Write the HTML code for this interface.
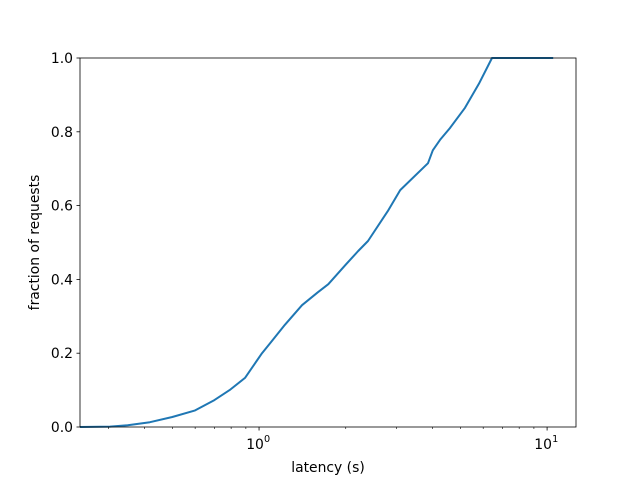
<!DOCTYPE html>
<html><head><meta charset="utf-8"><style>
body{margin:0;background:#fff}
svg text{font-family:"DejaVu Sans","Liberation Sans",sans-serif;font-size:13.9px;fill:#000}
</style></head><body>
<svg id="chart" width="640" height="480"></svg>
<script>
const latencies=[0.239,0.304,0.35,0.418,0.5,0.60,0.7,0.79,0.894,1.024,1.1,1.23,1.41,1.6,1.74,2.0,2.21,2.39,2.8,3.09,3.86,4.01,4.25,4.6,5.19,5.8,6.44,10.5];
const fractions=[0,0.001,0.005,0.013,0.027,0.045,0.073,0.10,0.133,0.2,0.23,0.277,0.33,0.365,0.387,0.44,0.477,0.504,0.585,0.642,0.715,0.75,0.778,0.81,0.865,0.93,1.0,1.0];
const yTicks=[0,0.2,0.4,0.6,0.8,1.0];
const yTickLabels=["0.0","0.2","0.4","0.6","0.8","1.0"];
const xMajor=[1,10];
const xMinor=[0.3,0.4,0.5,0.6,0.7,0.8,0.9,2,3,4,5,6,7,8,9];
const L=80,R=576,T=58,B=427;
const xmin=0.239,xmax=12.6;
const X=v=>L+(Math.log10(v)-Math.log10(xmin))/(Math.log10(xmax)-Math.log10(xmin))*(R-L);
const Y=v=>B-v*(B-T);
const svg=document.getElementById('chart');
const NS='http://www.w3.org/2000/svg';
function mk(tag,attrs,parent){const e=document.createElementNS(NS,tag);for(const k in attrs)e.setAttribute(k,attrs[k]);(parent||svg).appendChild(e);return e;}
let d=latencies.map((v,i)=>(i?'L':'M')+X(v).toFixed(1)+','+Y(fractions[i]).toFixed(1)).join(' ');
const line=mk('path',{d:d,fill:'none',stroke:'#1f77b4','stroke-width':2,'stroke-linejoin':'round'});


yTicks.forEach((v,i)=>{
  mk('line',{x1:L-3.5,x2:L,y1:Y(v),y2:Y(v),stroke:'#000','stroke-width':0.8});
  const t=mk('text',{x:L-7,y:Y(v)+5,'text-anchor':'end'});t.textContent=yTickLabels[i];
  
  
});
xMinor.forEach(v=>{if(X(v)>L&&X(v)<R)mk('line',{x1:X(v),x2:X(v),y1:B,y2:B+2,stroke:'#000','stroke-width':0.6});});
xMajor.forEach((v,i)=>{
  mk('line',{x1:X(v),x2:X(v),y1:B,y2:B+3.5,stroke:'#000','stroke-width':0.8});
  const t=mk('text',{x:X(v)-4,y:B+22,'text-anchor':'middle'});t.textContent='10';
  
  
  const s=mk('text',{x:X(v)+5,y:B+15,'text-anchor':'start',style:'font-size:9.7px'});s.textContent=String(i);
});
mk('rect',{x:L,y:T,width:R-L,height:B-T,fill:'none',stroke:'#000','stroke-width':0.8});
const xl=mk('text',{x:(L+R)/2,y:472,'text-anchor':'middle'});xl.textContent='latency (s)';


const yl=mk('text',{x:0,y:0,'text-anchor':'middle',transform:`translate(39,${(T+B)/2}) rotate(-90)`});yl.textContent='fraction of requests';


</script>
</body></html>
